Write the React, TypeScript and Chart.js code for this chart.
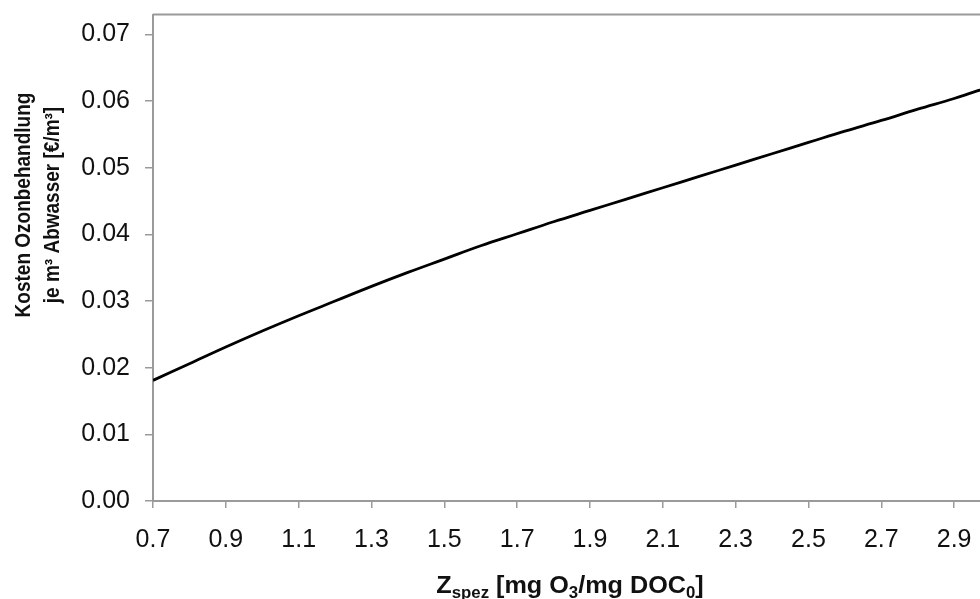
import React, { useEffect, useRef } from "react";
import { Chart, registerables } from "chart.js";

Chart.register(...registerables);

const X_VALUES = [0.7, 0.8, 0.9, 1.0, 1.1, 1.2, 1.3, 1.4, 1.5, 1.6, 1.7, 1.8, 1.9, 2.0, 2.1, 2.2, 2.3, 2.4, 2.5, 2.6, 2.7, 2.8, 2.9, 3.0];
const COST_VALUES = [0.0181, 0.0206, 0.0231, 0.0255, 0.0278, 0.03, 0.0322, 0.0343, 0.0363, 0.0383, 0.0401, 0.0419, 0.0436, 0.0453, 0.047, 0.0487, 0.0504, 0.0521, 0.0538, 0.0555, 0.0571, 0.0588, 0.0604, 0.0622];
const X_TICKS = [0.7, 0.9, 1.1, 1.3, 1.5, 1.7, 1.9, 2.1, 2.3, 2.5, 2.7, 2.9];
const Y_TICKS = [0, 0.01, 0.02, 0.03, 0.04, 0.05, 0.06, 0.07];
const Y_TITLE = ["Kosten Ozonbehandlung", "je m³ Abwasser [€/m³]"];
const X_TITLE_PARTS: [string, boolean][] = [
  ["Z", false],
  ["spez", true],
  [" [mg O", false],
  ["3", true],
  ["/mg DOC", false],
  ["0", true],
  ["]", false],
];

const FONT = "'Liberation Sans', Arial, sans-serif";
const AXIS_GRAY = "#9a9a9a";

const decorations = {
  id: "decorations",
  afterDraw(chart: any) {
    const { ctx, chartArea } = chart;
    ctx.save();
    // top border
    ctx.strokeStyle = AXIS_GRAY;
    ctx.lineWidth = 2;
    ctx.beginPath();
    ctx.moveTo(chartArea.left, chartArea.top);
    ctx.lineTo(chartArea.right, chartArea.top);
    ctx.stroke();

    // y title (two lines, rotated)
    ctx.fillStyle = "#111";
    ctx.font = `bold 19px ${FONT}`;
    ctx.textAlign = "center";
    ctx.textBaseline = "middle";
    const cy = 205;
    const xs = [24, 53];
    Y_TITLE.forEach((line, i) => {
      ctx.save();
      ctx.translate(xs[i], cy);
      ctx.rotate(-Math.PI / 2);
      ctx.scale(1, 1.12);
      ctx.fillText(line, 0, 0);
      ctx.restore();
    });

    // x title with subscripts
    const big = `bold 24px ${FONT}`;
    const small = `bold 16px ${FONT}`;
    let total = 0;
    X_TITLE_PARTS.forEach(([t, sub]) => {
      ctx.font = sub ? small : big;
      total += ctx.measureText(t).width;
    });
    const sx = 1.05;
    let x = 570 - (total * sx) / 2;
    const baseline = 593;
    ctx.textAlign = "left";
    ctx.textBaseline = "alphabetic";
    X_TITLE_PARTS.forEach(([t, sub]) => {
      ctx.font = sub ? small : big;
      ctx.save();
      ctx.translate(x, sub ? baseline + 5 : baseline);
      ctx.scale(sx, 1);
      ctx.fillText(t, 0, 0);
      ctx.restore();
      x += ctx.measureText(t).width * sx;
    });
    ctx.restore();
  },
};

export default function App() {
  const ref = useRef<HTMLCanvasElement>(null);
  useEffect(() => {
    if (!ref.current) return;
    const chart = new Chart(ref.current, {
      type: "line",
      data: {
        datasets: [
          {
            data: X_VALUES.map((x, i) => ({ x, y: COST_VALUES[i] })),
            borderColor: "#000",
            borderWidth: 2.8,
            pointRadius: 0,
            tension: 0.4,
            fill: false,
          },
        ],
      },
      options: {
        animation: false,
        responsive: false,
        layout: { padding: { top: 14.5, right: 0, left: 0, bottom: 0 } },
        plugins: { legend: { display: false }, tooltip: { enabled: false } },
        scales: {
          x: {
            type: "linear",
            min: 0.7,
            max: 2.971,
            afterBuildTicks: (s: any) => {
              s.ticks = X_TICKS.map((v) => ({ value: v }));
            },
            afterFit: (s: any) => {
              s.height = 98;
              s.paddingLeft = 0;
              s.paddingRight = 0;
            },
            grid: { drawOnChartArea: false, drawTicks: true, tickLength: 7, color: AXIS_GRAY, lineWidth: 1.5 },
            border: { color: AXIS_GRAY, width: 2 },
            ticks: {
              color: "#111",
              font: { family: FONT, size: 25 },
              padding: 17,
              maxRotation: 0,
              autoSkip: false,
              callback: (v: any) => Number(v).toFixed(1),
            },
          },
          y: {
            type: "linear",
            min: 0,
            max: 0.073,
            afterBuildTicks: (s: any) => {
              s.ticks = Y_TICKS.map((v) => ({ value: v }));
            },
            afterFit: (s: any) => {
              s.width = 153;
              s.paddingTop = 0;
              s.paddingBottom = 0;
            },
            grid: { drawOnChartArea: false, drawTicks: true, tickLength: 8, color: AXIS_GRAY, lineWidth: 1.5 },
            border: { color: AXIS_GRAY, width: 2 },
            ticks: {
              color: "#111",
              font: { family: FONT, size: 25 },
              padding: 15,
              autoSkip: false,
              callback: (v: any) => Number(v).toFixed(2),
            },
          },
        },
      },
      plugins: [decorations],
    });
    return () => chart.destroy();
  }, []);
  return (
    <div style={{ position: "absolute", left: 0, top: 0, width: 980, height: 599, background: "#fff" }}>
      <canvas ref={ref} width={980} height={599} />
    </div>
  );
}
